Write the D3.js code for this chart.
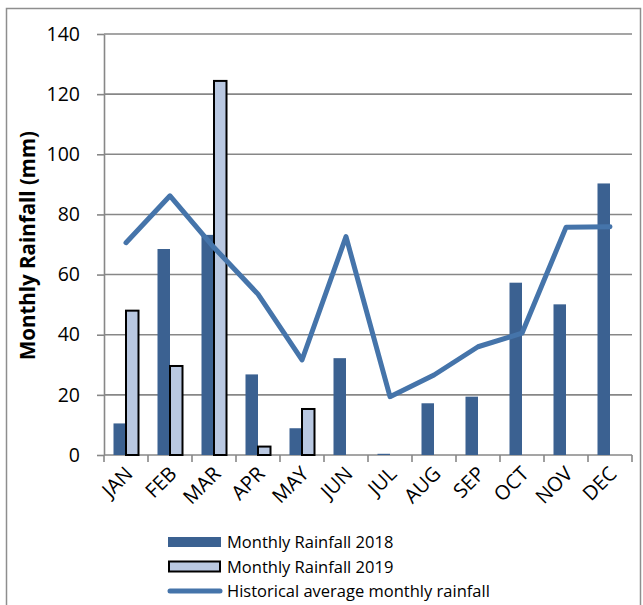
<!DOCTYPE html>
<meta charset="utf-8">
<title>Monthly Rainfall</title>
<style>
body {
  margin: 0;
  background: #fff;
  font-family: "Open Sans", "Noto Sans", Arial, sans-serif;
}
svg text { fill: #000; }
</style>
<body>
<script src="https://cdn.jsdelivr.net/npm/d3@7"></script>
<script>
'use strict';

// values (mm)
const months = ["JAN","FEB","MAR","APR","MAY","JUN","JUL","AUG","SEP","OCT","NOV","DEC"];
const rain2018 = [10.5, 68.5, 73.2, 26.8, 8.9, 32.2, 0.4, 17.2, 19.4, 57.3, 50.1, 90.3];
const rain2019 = [48, 29.6, 124.4, 2.8, 15.3, null, null, null, null, null, null, null];
const histAvg = [70.6, 86.2, 69, 53.5, 31.6, 72.6, 19.4, 26.6, 36, 40.5, 75.7, 75.9];
const yTicks = [0, 20, 40, 60, 80, 100, 120, 140];

const W = 643, H = 605;
const margin = {top: 34, right: 11, bottom: 150, left: 104};
const width = W - margin.left - margin.right,
      height = H - margin.top - margin.bottom;

const darkBlue = "#3b6191",
      lightBlue = "#b9c8e1",
      lineBlue = "#4574aa",
      gridGray = "#878787";

const svg = d3.select("body").append("svg")
    .attr("width", W)
    .attr("height", H);

// outer chart border
svg.append("rect")
    .attr("x", 6.5).attr("y", 8.5)
    .attr("width", 634).attr("height", 620)
    .attr("fill", "none")
    .attr("stroke", "#8e8e8e")
    .attr("stroke-width", 1.5);

const g = svg.append("g")
    .attr("transform", "translate(" + margin.left + "," + margin.top + ")");

const x = d3.scaleBand().domain(months).range([0, width]).padding(0);
const y = d3.scaleLinear().domain([0, 140]).range([height, 0]);
const xSub = d3.scaleBand().domain(["2018", "2019"]).range([-12.5, 12.5]).padding(0);

// gridlines
g.append("g")
  .selectAll("line")
  .data(yTicks.filter(d => d > 0))
  .enter().append("line")
    .attr("x1", 0).attr("x2", width)
    .attr("y1", d => y(d)).attr("y2", d => y(d))
    .attr("stroke", gridGray)
    .attr("stroke-width", 1.6);

// y axis
const yAxis = g.append("g")
    .call(d3.axisLeft(y).tickValues(yTicks).tickSize(7).tickPadding(17).tickSizeOuter(0));
yAxis.select(".domain").attr("stroke", gridGray).attr("stroke-width", 1.6);
yAxis.selectAll(".tick line").attr("stroke", gridGray).attr("stroke-width", 1.6);
yAxis.selectAll(".tick text")
    .style("font-family", "'Open Sans', sans-serif")
    .style("font-size", "19.5px");

// x axis (ticks at category boundaries)
const xAxisG = g.append("g").attr("transform", "translate(0," + height + ")");
xAxisG.append("line")
    .attr("x1", 0).attr("x2", width)
    .attr("stroke", gridGray).attr("stroke-width", 1.6);
xAxisG.selectAll(".bound")
  .data(months.concat(["end"]))
  .enter().append("line")
    .attr("class", "bound")
    .attr("x1", (d, i) => i * x.bandwidth())
    .attr("x2", (d, i) => i * x.bandwidth())
    .attr("y1", 0).attr("y2", 7)
    .attr("stroke", gridGray).attr("stroke-width", 1.6);
xAxisG.selectAll(".mlabel")
  .data(months)
  .enter().append("text")
    .attr("class", "mlabel")
    .attr("text-anchor", "end")
    .attr("transform", d => "translate(" + (x(d) + x.bandwidth() / 2 + 8) + ",20) rotate(-45)")
    .style("font-size", "20px")
    .text(d => d);

// bars
const groups = g.selectAll(".month")
  .data(months)
  .enter().append("g")
    .attr("class", "month")
    .attr("transform", d => "translate(" + (x(d) + x.bandwidth() / 2) + ",0)");

groups.append("rect")
    .attr("x", xSub("2018"))
    .attr("width", xSub.bandwidth())
    .attr("y", (d, i) => y(rain2018[i]))
    .attr("height", (d, i) => height - y(rain2018[i]))
    .attr("fill", darkBlue);

groups.filter((d, i) => rain2019[i] != null)
  .append("rect")
    .attr("x", xSub("2019"))
    .attr("width", xSub.bandwidth())
    .attr("y", d => y(rain2019[months.indexOf(d)]))
    .attr("height", d => height - y(rain2019[months.indexOf(d)]))
    .attr("fill", lightBlue)
    .attr("stroke", "#000")
    .attr("stroke-width", 2);

// historical average line
const line = d3.line()
    .x((d, i) => x(months[i]) + x.bandwidth() / 2)
    .y(d => y(d));

g.append("path")
    .datum(histAvg)
    .attr("d", line)
    .attr("fill", "none")
    .attr("stroke", lineBlue)
    .attr("stroke-width", 5)
    .attr("stroke-linejoin", "round")
    .attr("stroke-linecap", "round");

// y axis title
svg.append("text")
    .attr("transform", "translate(35," + (margin.top + height / 2 + 1) + ") rotate(-90)")
    .attr("text-anchor", "middle")
    .style("font-size", "20.5px")
    .style("font-weight", "bold")
    .text("Monthly Rainfall (mm)");

// legend
const legend = svg.append("g").attr("transform", "translate(168,542)");
const legendItems = ["Monthly Rainfall 2018", "Monthly Rainfall 2019", "Historical average monthly rainfall"];
const li = legend.selectAll(".li")
  .data(legendItems)
  .enter().append("g")
    .attr("transform", (d, i) => "translate(0," + i * 24.5 + ")");

li.filter((d, i) => i === 0).append("rect")
    .attr("x", 0).attr("y", -5).attr("width", 53).attr("height", 10)
    .attr("fill", darkBlue);
li.filter((d, i) => i === 1).append("rect")
    .attr("x", 1).attr("y", -5).attr("width", 51).attr("height", 10)
    .attr("fill", lightBlue).attr("stroke", "#000").attr("stroke-width", 2);
li.filter((d, i) => i === 2).append("line")
    .attr("x1", 2).attr("x2", 52).attr("y1", 0).attr("y2", 0)
    .attr("stroke", lineBlue).attr("stroke-width", 5).attr("stroke-linecap", "round");

li.append("text")
    .attr("x", 59).attr("y", 6)
    .style("font-size", "16.5px")
    .text(d => d);
</script>
</body>
